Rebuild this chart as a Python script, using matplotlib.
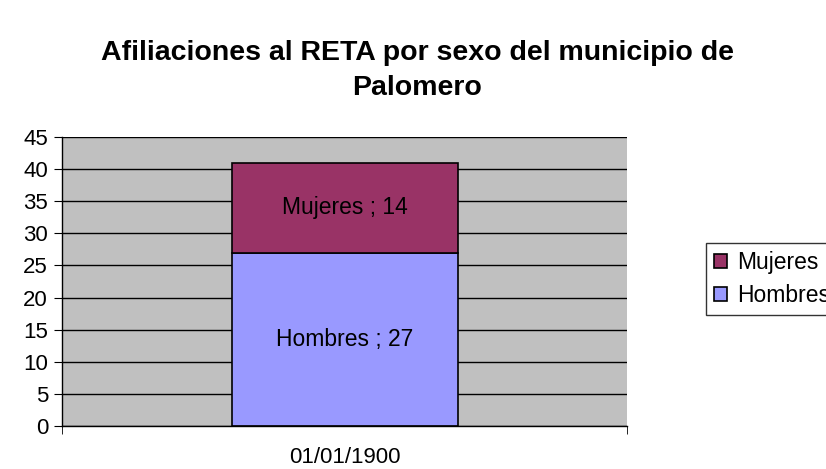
import matplotlib.pyplot as plt

plt.rcParams['font.family'] = ['Liberation Sans', 'DejaVu Sans']

# Data
categories = ['01/01/1900']
hombres = [27]
mujeres = [14]

fig = plt.figure(figsize=(8.26, 4.69), dpi=100)
ax = fig.add_axes([62 / 826, 1 - 426 / 469, 565 / 826, 289 / 469])
ax.set_facecolor('#C0C0C0')

x = range(len(categories))
b1 = ax.bar(x, hombres, width=0.4, color='#9999FF', edgecolor='black', linewidth=1.2, label='Hombres')
b2 = ax.bar(x, mujeres, bottom=hombres, width=0.4, color='#993366', edgecolor='black', linewidth=1.2, label='Mujeres')

for i in x:
    ax.text(i, hombres[i] / 2, f'Hombres ; {hombres[i]}', ha='center', va='center', fontsize=16.5)
    ax.text(i, hombres[i] + mujeres[i] / 2, f'Mujeres ; {mujeres[i]}', ha='center', va='center', fontsize=16.5)

ax.set_xlim(-0.5, 0.5)
ax.set_ylim(0, 45)
ax.set_yticks(range(0, 46, 5))
ax.set_xticks([-0.5, 0.5], minor=True)
ax.set_xticks(list(x))
ax.set_xticklabels(categories)
ax.tick_params(axis='x', which='major', length=0, pad=15, labelsize=16)
ax.tick_params(axis='x', which='minor', length=6, direction='out')
ax.tick_params(axis='y', length=6, labelsize=16, pad=4)
ax.yaxis.grid(True, color='black', linewidth=1)
ax.set_axisbelow(True)
for s in ['top', 'right']:
    ax.spines[s].set_visible(False)
ax.spines['left'].set_linewidth(1)
ax.spines['bottom'].set_linewidth(1)

fig.text(417 / 826, 1 - 53 / 469, 'Afiliaciones al RETA por sexo del municipio de',
         ha='center', va='center', fontsize=20.5, fontweight='bold')
fig.text(417 / 826, 1 - 88 / 469, 'Palomero',
         ha='center', va='center', fontsize=20.5, fontweight='bold')

leg = fig.legend(handles=[b2, b1], loc='upper left', bbox_to_anchor=(706 / 826, 1 - 243 / 469),
                 borderaxespad=0, fontsize=16.5, frameon=True, fancybox=False, edgecolor='black',
                 handlelength=0.55, handleheight=0.55, handletextpad=0.45, borderpad=0.35, labelspacing=0.45)
leg.get_frame().set_linewidth(1)

fig.savefig('out.png', dpi=100)
